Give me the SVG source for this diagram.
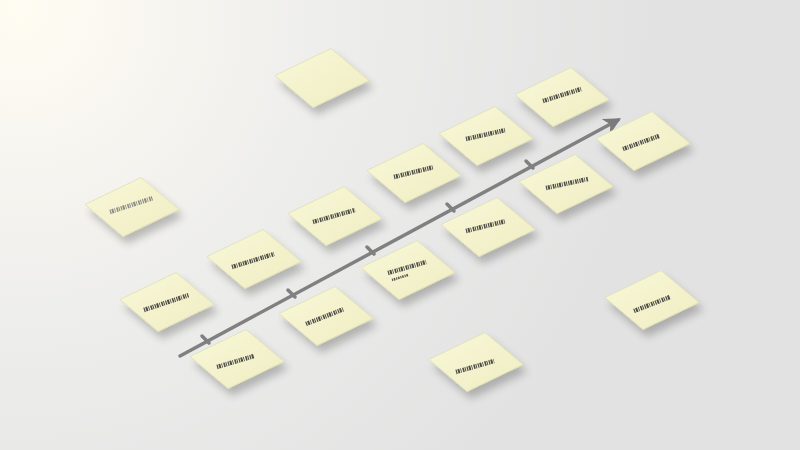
<svg xmlns="http://www.w3.org/2000/svg" xmlns:xlink="http://www.w3.org/1999/xlink" width="800" height="450" viewBox="0 0 800 450">
<defs>
<radialGradient id="bg" cx="20" cy="10" r="640" gradientUnits="userSpaceOnUse">
<stop offset="0" stop-color="#fffdf2"/>
<stop offset="0.2" stop-color="#f8f6f0"/>
<stop offset="0.5" stop-color="#ededec"/>
<stop offset="1" stop-color="#e2e2e2"/>
</radialGradient>
<linearGradient id="paper" x1="0" y1="0" x2="1" y2="1">
<stop offset="0" stop-color="#f9f8d8"/>
<stop offset="1" stop-color="#efedc2"/>
</linearGradient>
<filter id="shadow" x="-30%" y="-30%" width="160%" height="170%">
<feGaussianBlur in="SourceAlpha" stdDeviation="4"/>
<feOffset dx="4" dy="7" result="b"/>
<feComponentTransfer><feFuncA type="linear" slope="0.24"/></feComponentTransfer>
<feMerge><feMergeNode/><feMergeNode in="SourceGraphic"/></feMerge>
</filter>
<path id="note" d="M-47,-2.5 L9,-29.5 L47,2.5 L-9,29.5 Z"/>
<marker id="arrow" viewBox="0 0 10 10" refX="8" refY="5" markerWidth="5" markerHeight="5" orient="auto" markerUnits="strokeWidth">
<path d="M0,0 L10,5 L0,10 L3,5 Z" fill="#7a7a7a"/>
</marker>
</defs>
<style>
.paper{fill:url(#paper);stroke:#e0deb0;stroke-width:0.8}
.note{filter:url(#shadow)}
.scrib{fill:none;stroke:#4d4d48;stroke-width:4.5;stroke-dasharray:1.2 0.8 2 0.9 0.8 1.3 1.6 0.7 1 1.1}
.scrib2{fill:none;stroke:#55554f;stroke-width:2.5;stroke-dasharray:1.1 0.8 1.6 0.9}
.faint{stroke:#8c8c86}
.axis{fill:none;stroke:#808080;stroke-width:3.5;stroke-linecap:round}
.tick{fill:none;stroke:#808080;stroke-width:3.5;stroke-linecap:round}
</style>
<rect width="800" height="450" fill="url(#bg)"/>

<g id="connectors">
<path class="axis" d="M180,356 L618,120" marker-end="url(#arrow)"/>
<path class="tick" d="M202,336 L209,343"/>
<path class="tick" d="M288,290 L295,297"/>
<path class="tick" d="M367,247 L374,254"/>
<path class="tick" d="M447,204 L454,211"/>
<path class="tick" d="M526,161 L533,168"/>
</g>

<g id="note-1" class="note" transform="translate(132,207)"><use xlink:href="#note" class="paper"/><path class="scrib faint" d="M-22,5 L21,-9"/></g>
<g id="note-2" class="note" transform="translate(322,78)"><use xlink:href="#note" class="paper"/></g>
<g id="note-3" class="note" transform="translate(562,97)"><use xlink:href="#note" class="paper"/><path class="scrib" d="M-19,4 L19,-8"/></g>
<g id="note-4" class="note" transform="translate(486,136)"><use xlink:href="#note" class="paper"/><path class="scrib" d="M-20,3 L20,-6"/></g>
<g id="note-5" class="note" transform="translate(643,141)"><use xlink:href="#note" class="paper"/><path class="scrib" d="M-20,8 L16,-5"/></g>
<g id="note-6" class="note" transform="translate(414,173)"><use xlink:href="#note" class="paper"/><path class="scrib" d="M-20,4 L20,-6"/></g>
<g id="note-7" class="note" transform="translate(566,184)"><use xlink:href="#note" class="paper"/><path class="scrib" d="M-20,4 L22,-5"/></g>
<g id="note-8" class="note" transform="translate(335,216)"><use xlink:href="#note" class="paper"/><path class="scrib" d="M-22,6 L20,-6"/></g>
<g id="note-9" class="note" transform="translate(488,227)"><use xlink:href="#note" class="paper"/><path class="scrib" d="M-22,4 L18,-6"/></g>
<g id="note-10" class="note" transform="translate(254,259)"><use xlink:href="#note" class="paper"/><path class="scrib" d="M-22,8 L20,-5"/></g>
<g id="note-11" class="note" transform="translate(408,270)"><use xlink:href="#note" class="paper"/><path class="scrib" d="M-20,3 L18,-8"/><path class="scrib2" d="M-16,10 L0,5"/></g>
<g id="note-12" class="note" transform="translate(167,302)"><use xlink:href="#note" class="paper"/><path class="scrib" d="M-23,8 L22,-7"/></g>
<g id="note-13" class="note" transform="translate(326,316)"><use xlink:href="#note" class="paper"/><path class="scrib" d="M-20,8 L18,-7"/></g>
<g id="note-14" class="note" transform="translate(237,359)"><use xlink:href="#note" class="paper"/><path class="scrib" d="M-20,8 L17,-3"/></g>
<g id="note-15" class="note" transform="translate(652,300)"><use xlink:href="#note" class="paper"/><path class="scrib" d="M-18,11 L18,-3"/></g>
<g id="note-16" class="note" transform="translate(476,362)"><use xlink:href="#note" class="paper"/><path class="scrib" d="M-20,10 L18,-1"/></g>
</svg>
